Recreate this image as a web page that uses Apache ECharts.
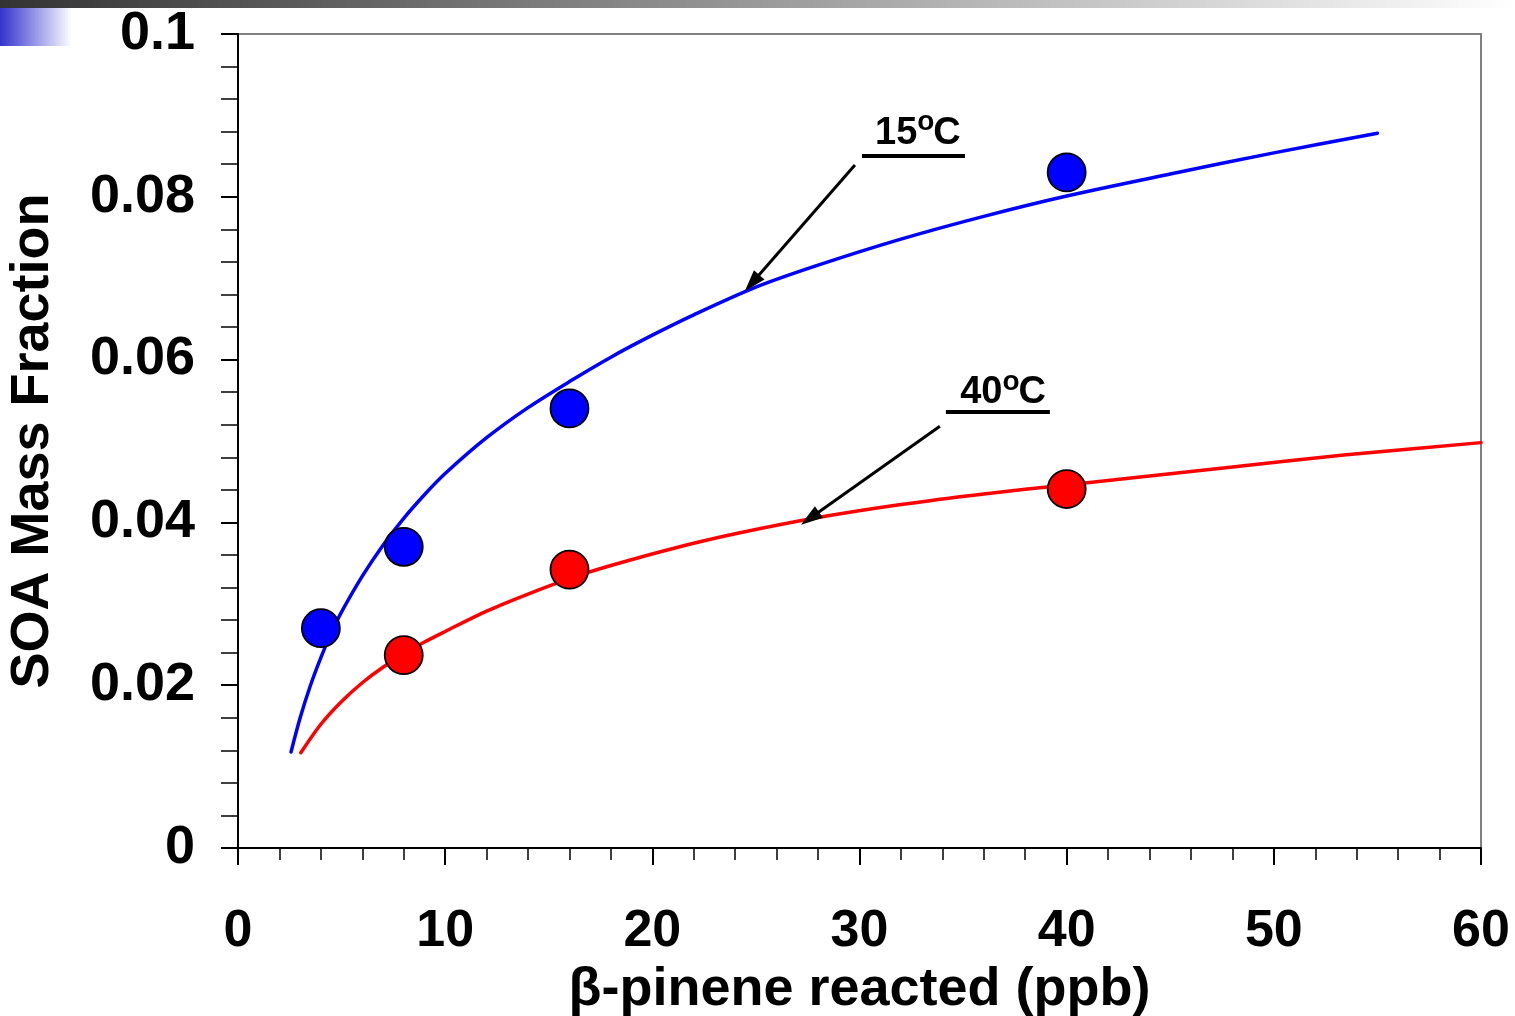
<!DOCTYPE html>
<html>
<head>
<meta charset="utf-8">
<script src="https://cdn.jsdelivr.net/npm/echarts@6/dist/echarts.min.js"></script>
<style>
  html, body { margin: 0; padding: 0; background: #ffffff; }
  #chart { width: 1515px; height: 1016px; }
</style>
</head>
<body>
<div id="chart"></div>
<script>
// Measured SOA mass fractions (beta-pinene reacted, ppb)
const measX15 = [4, 8, 16, 40];
const measY15 = [0.027, 0.037, 0.054, 0.083];
const measX40 = [8, 16, 40];
const measY40 = [0.0237, 0.0342, 0.0441];

// Fitted yield curves
const fitX15 = [2.56, 3.0, 3.5, 4.0, 4.5, 5.0, 6.0, 7.0, 8.0, 9.0, 10.0, 12.0, 14.0, 16.0, 18.0, 20.0, 22.0, 25.0, 28.0, 32.0, 36.0, 40.0, 45.0, 50.0, 55.0];
const fitY15 = [0.0118, 0.0160, 0.0200, 0.0234, 0.0264, 0.0290, 0.0334, 0.0372, 0.0405, 0.0434, 0.0460, 0.0504, 0.0541, 0.0573, 0.0603, 0.0630, 0.0655, 0.0689, 0.0716, 0.0748, 0.0776, 0.0801, 0.0828, 0.0854, 0.0878];
const fitX40 = [3.03, 4.0, 5.0, 6.0, 7.0, 8.0, 9.0, 10.0, 12.0, 14.0, 16.0, 18.0, 21.0, 24.0, 28.0, 32.0, 36.0, 40.0, 44.0, 48.0, 53.5, 60.0];
const fitY40 = [0.0117, 0.0152, 0.0180, 0.0203, 0.0222, 0.0238, 0.0253, 0.0266, 0.0291, 0.0312, 0.0331, 0.0347, 0.0368, 0.0386, 0.0406, 0.0422, 0.0435, 0.0446, 0.0457, 0.0468, 0.0483, 0.0498];

// Axis settings
const xTickValues = [0, 10, 20, 30, 40, 50, 60];
const yTickValues = [0, 0.02, 0.04, 0.06, 0.08, 0.1];

// Temperature annotations (data coordinates)
const label15 = { text: '15', unit: 'C', at: [32.82, 0.0878], line: [[30.12, 0.0851], [35.09, 0.0851]], arrow: [[29.78, 0.0839], [24.81, 0.0694]] };
const label40 = { text: '40', unit: 'C', at: [36.93, 0.0559], line: [[34.17, 0.0536], [39.19, 0.0536]], arrow: [[33.88, 0.0518], [27.61, 0.0405]] };

const FONT = "'Liberation Sans', Arial, sans-serif";

function zip(xs, ys) { return xs.map((x, i) => [x, ys[i]]); }

const chart = echarts.init(document.getElementById('chart'), null, { renderer: 'canvas' });

// number + gap + unit; the raised "o" is placed into the gap by a second label
const tempRich = {
  a: { fontFamily: FONT, fontWeight: 'bold', fontSize: 38, color: '#000', lineHeight: 40 },
  g: { width: 16, lineHeight: 40 }
};

function annotationSeries(lab) {
  return {
    type: 'line',
    data: [],
    silent: true,
    z: 6,
    markLine: {
      silent: true,
      animation: false,
      label: { show: false },
      data: [
        [{ coord: lab.line[0], symbol: 'none' }, { coord: lab.line[1], symbol: 'none', lineStyle: { width: 4, color: '#000', type: 'solid' } }],
        [{ coord: lab.arrow[0], symbol: 'none' }, { coord: lab.arrow[1], symbol: 'triangle', symbolSize: [14, 22], lineStyle: { width: 3, color: '#000', type: 'solid' } }]
      ],
      lineStyle: { color: '#000', type: 'solid' },
      itemStyle: { color: '#000' }
    },
    markPoint: {
      silent: true,
      animation: false,
      symbol: 'circle',
      symbolSize: 0,
      data: [
        {
          coord: lab.at,
          label: {
            show: true,
            position: 'inside',
            formatter: '{a|' + lab.text + '}{g|}{a|' + lab.unit + '}',
            rich: tempRich
          }
        },
        {
          coord: lab.at,
          label: {
            show: true,
            position: 'inside',
            offset: [8, -11],
            formatter: 'o',
            fontFamily: FONT, fontWeight: 'bold', fontSize: 28, color: '#000'
          }
        }
      ]
    }
  };
}

const option = {
  animation: false,
  backgroundColor: '#ffffff',
  graphic: [
    {
      type: 'rect', left: 0, top: 0, z: 10,
      shape: { width: 1515, height: 8 },
      style: { fill: new echarts.graphic.LinearGradient(0, 0, 1, 0, [
        { offset: 0, color: '#333333' }, { offset: 1, color: '#ffffff' }
      ]) }
    },
    {
      type: 'rect', left: 0, top: 8, z: 10,
      shape: { width: 72, height: 38 },
      style: { fill: new echarts.graphic.LinearGradient(0, 0, 1, 0, [
        { offset: 0, color: '#3333cc' }, { offset: 1, color: '#ffffff' }
      ]) }
    }
  ],
  grid: {
    left: 238, right: 34, top: 34, bottom: 168,
    containLabel: false, outerBoundsMode: 'none',
    show: true, borderColor: '#808080', borderWidth: 2, backgroundColor: 'transparent'
  },
  xAxis: {
    type: 'value', min: 0, max: 60, interval: 10,
    name: 'β-pinene reacted (ppb)', nameLocation: 'middle', nameGap: 115,
    nameTextStyle: { fontFamily: FONT, fontWeight: 'bold', fontSize: 54, color: '#000' },
    axisLine: { show: true, onZero: false, lineStyle: { color: '#000', width: 2 } },
    axisTick: { show: true, inside: false, length: 17, lineStyle: { color: '#000', width: 2 } },
    minorTick: { show: true, splitNumber: 5, length: 12, lineStyle: { color: '#000', width: 1.5 } },
    axisLabel: {
      margin: 58, fontFamily: FONT, fontWeight: 'bold', fontSize: 52, color: '#000',
      formatter: v => (xTickValues.indexOf(v) >= 0 ? String(v) : '')
    },
    splitLine: { show: false }, minorSplitLine: { show: false }
  },
  yAxis: {
    type: 'value', min: 0, max: 0.1, interval: 0.02,
    name: 'SOA Mass Fraction', nameLocation: 'middle', nameGap: 178, nameRotate: 90,
    nameTextStyle: { fontFamily: FONT, fontWeight: 'bold', fontSize: 54, color: '#000' },
    axisLine: { show: true, onZero: false, lineStyle: { color: '#000', width: 2 } },
    axisTick: { show: true, inside: false, length: 17, lineStyle: { color: '#000', width: 2 } },
    minorTick: { show: true, splitNumber: 5, length: 17, lineStyle: { color: '#000', width: 1.5 } },
    axisLabel: {
      margin: 43, fontFamily: FONT, fontWeight: 'bold', fontSize: 54, color: '#000',
      formatter: v => {
        const t = yTickValues.find(k => Math.abs(k - v) < 1e-9);
        return t === undefined ? '' : String(t);
      }
    },
    splitLine: { show: false }, minorSplitLine: { show: false }
  },
  series: [
    {
      name: 'fit 15C', type: 'line', data: zip(fitX15, fitY15),
      smooth: 0.3, showSymbol: false, symbol: 'none', z: 3,
      lineStyle: { color: '#0000ff', width: 3.5, cap: 'round' }
    },
    {
      name: 'fit 40C', type: 'line', data: zip(fitX40, fitY40),
      smooth: 0.3, showSymbol: false, symbol: 'none', z: 3,
      lineStyle: { color: '#ff0000', width: 3.5, cap: 'round' }
    },
    {
      name: '15C', type: 'scatter', data: zip(measX15, measY15), z: 5,
      symbol: 'circle', symbolSize: 38,
      itemStyle: { color: '#0000ff', borderColor: '#000', borderWidth: 1.8, opacity: 1 }
    },
    {
      name: '40C', type: 'scatter', data: zip(measX40, measY40), z: 5,
      symbol: 'circle', symbolSize: 38,
      itemStyle: { color: '#ff0000', borderColor: '#000', borderWidth: 1.8, opacity: 1 }
    },
    annotationSeries(label15),
    annotationSeries(label40)
  ]
};

chart.setOption(option);
</script>
</body>
</html>
